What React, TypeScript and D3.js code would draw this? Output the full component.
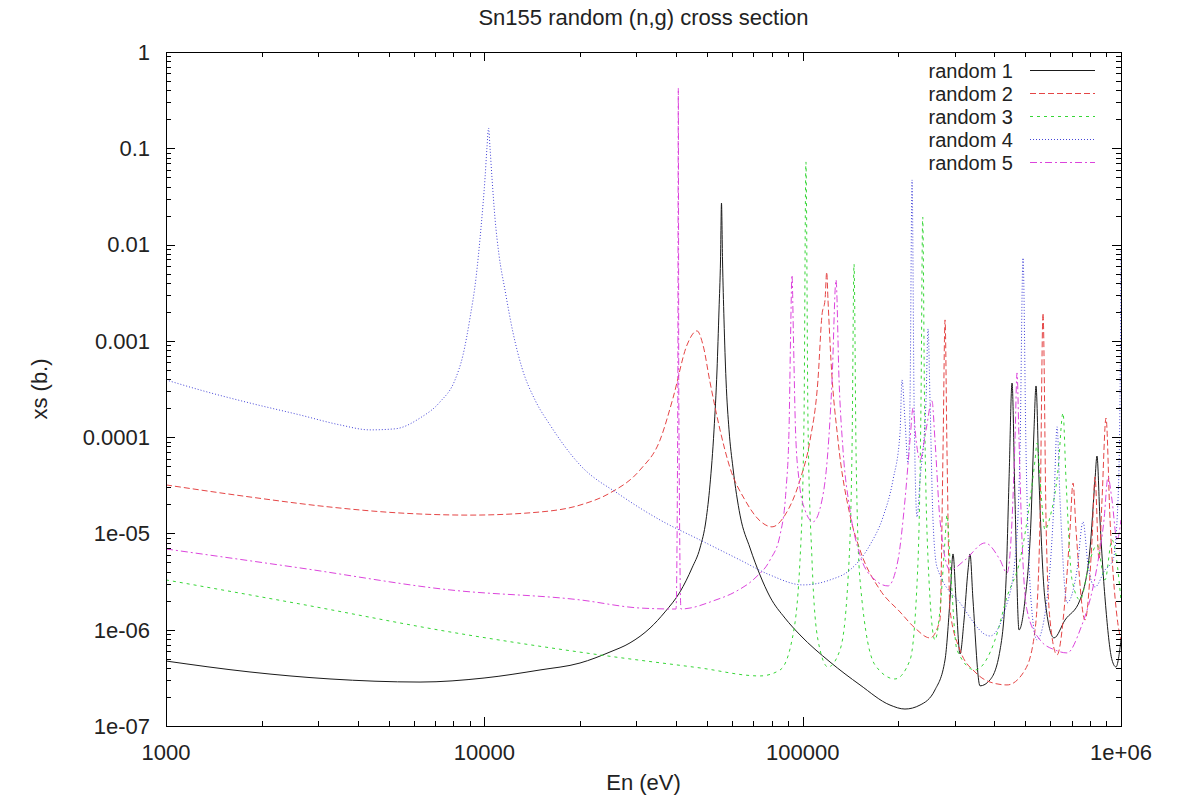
import React from "react";
import * as d3 from "d3";

const TITLE = "Sn155 random (n,g) cross section";
const X_LABEL = "En (eV)";
const Y_LABEL = "xs (b.)";
const X_TICKS = [1e3, 1e4, 1e5, 1e6];
const X_TICK_LABELS = ["1000", "10000", "100000", "1e+06"];
const Y_TICKS = [1, 0.1, 0.01, 0.001, 1e-4, 1e-5, 1e-6, 1e-7];
const Y_TICK_LABELS = ["1", "0.1", "0.01", "0.001", "0.0001", "1e-05", "1e-06", "1e-07"];
const SERIES_NAMES = ["random 1", "random 2", "random 3", "random 4", "random 5"];

// [En (eV), xs (b.)]
const random1: [number, number][] = [
  [1000, 4.73e-7], [1836, 3.64e-7], [3275, 3.08e-7], [6280, 2.86e-7], [9980, 3.15e-7],
  [14960, 3.82e-7], [19980, 4.51e-7], [24820, 5.87e-7], [28690, 7.3e-7], [33150, 1.04e-6],
  [36940, 1.53e-6], [41180, 2.47e-6], [44920, 4.38e-6], [47590, 7.06e-6], [49710, 1.38e-5],
  [51150, 3.19e-5], [52670, 1.19e-4], [53820, 4.98e-4], [54600, 2.09e-3], [55200, 6.92e-3],
  [55590, 0.027], [56000, 6.92e-3], [56610, 1.65e-3], [57440, 3.93e-4], [58700, 1.19e-4],
  [60410, 4.79e-5], [63570, 1.55e-5], [68330, 7.06e-6], [73450, 3.7e-6], [78970, 2.19e-6],
  [88000, 1.32e-6], [98100, 8.82e-7], [121900, 4.62e-7], [151400, 2.67e-7], [188100, 1.65e-7],
  [209600, 1.5e-7], [233700, 1.65e-7], [260400, 2.37e-7], [280000, 4.85e-7], [290300, 2.04e-6],
  [296700, 6.12e-6], [303200, 2.04e-6], [312100, 5.6e-7], [321300, 1.26e-6], [330700, 4.17e-6],
  [335500, 6.12e-6], [342800, 2.04e-6], [360700, 2.61e-7], [387700, 3.01e-7], [416900, 6.16e-7],
  [435500, 3.29e-6], [444900, 3.59e-5], [454700, 3.65e-4], [464500, 2.22e-5], [478200, 9.95e-7],
  [499400, 2.04e-6], [521500, 1.38e-5], [533000, 1.19e-4], [540800, 3.4e-4], [552600, 3.59e-5],
  [577200, 2.04e-6], [616100, 8.22e-7], [666900, 1.26e-6], [743500, 2.04e-6], [799100, 6.9e-6],
  [828500, 3.59e-5], [840500, 6.37e-5], [859000, 1.38e-5], [897200, 1.6e-6], [937000, 4.85e-7],
  [964400, 4.1e-7], [1000000, 7.83e-7],
];

const random2: [number, number][] = [
  [1000, 3.19e-5], [1836, 2.39e-5], [3275, 1.88e-5], [5434, 1.63e-5], [9016, 1.55e-5],
  [14960, 1.67e-5], [19980, 1.97e-5], [24820, 2.63e-5], [30830, 4.56e-5], [35640, 9.33e-5],
  [39150, 2.55e-4], [43320, 9.06e-4], [46570, 1.27e-3], [48630, 9.06e-4], [51150, 3.74e-4],
  [55000, 1.19e-4], [59130, 4.79e-5], [65900, 2.22e-5], [73450, 1.35e-5], [80120, 1.17e-5],
  [88000, 1.55e-5], [98100, 3.59e-5], [105500, 9.33e-5], [111700, 3.93e-4], [115000, 1.86e-3],
  [117550, 2.66e-3], [119000, 5.19e-3], [120100, 2.66e-3], [122700, 6.33e-4], [129100, 9.33e-5],
  [140800, 1.55e-5], [151400, 6.73e-6], [175000, 2.59e-6], [202200, 1.53e-6], [225400, 1.04e-6],
  [251200, 8.22e-7], [270000, 1.26e-6], [276000, 7.36e-5], [280100, 1.65e-3], [284000, 7.36e-5],
  [290300, 1.6e-6], [312100, 6.16e-7], [347900, 3.64e-7], [387700, 2.86e-7], [438400, 2.67e-7],
  [499400, 3.82e-7], [537000, 9.93e-7], [556800, 1.38e-5], [568900, 1.95e-3], [581400, 1.38e-5],
  [598400, 1.26e-6], [629600, 5.47e-7], [666900, 2.04e-6], [691500, 1.09e-5], [706700, 3.34e-5],
  [722300, 1.09e-5], [770900, 1.26e-6], [810900, 8.55e-6], [828500, 3.86e-5], [852900, 5.3e-6],
  [871600, 2.22e-5], [897200, 1.58e-4], [923800, 1.38e-5], [971600, 1.36e-6], [1000000, 7.83e-7],
];

const random3: [number, number][] = [
  [1000, 3.29e-6], [2636, 1.85e-6], [7800, 9.48e-7], [23090, 5.47e-7], [47590, 4.01e-7],
  [73450, 3.31e-7], [84900, 3.82e-7], [92570, 7.83e-7], [98100, 5.3e-6], [100970, 1.51e-4],
  [102400, 0.0721], [103900, 1.51e-4], [106980, 5.3e-6], [111700, 7.83e-7], [120100, 4.1e-7],
  [131000, 6.16e-7], [138800, 3.29e-6], [142900, 7.36e-5], [145000, 6.28e-3], [147100, 7.36e-5],
  [151400, 3.29e-6], [168800, 4.3e-7], [195100, 3.08e-7], [217400, 4.85e-7], [230400, 5.3e-6],
  [235400, 2.43e-4], [238300, 0.0193], [241400, 2.43e-4], [247700, 5.3e-6], [260400, 7.83e-7],
  [270000, 1.6e-6], [280100, 8.55e-6], [284000, 1.55e-5], [290300, 5.3e-6], [305300, 6.16e-7],
  [347900, 3.82e-7], [402000, 7.83e-7], [438400, 2.19e-6], [481700, 5.3e-6], [518000, 2.22e-5],
  [537000, 5.79e-5], [544800, 8.69e-5], [556800, 3.59e-5], [577200, 1.09e-5], [598400, 1.48e-5],
  [634100, 4.56e-5], [657400, 1.78e-4], [671900, 3.59e-5], [701800, 3.29e-6], [743500, 2.04e-6],
  [799100, 5.3e-6], [840500, 7.59e-6], [890700, 3.29e-6], [937000, 8.55e-6], [1000000, 2.04e-6],
];

const random4: [number, number][] = [
  [1000, 3.93e-4], [1279, 3.09e-4], [1836, 2.26e-4], [2636, 1.7e-4], [3521, 1.34e-4],
  [4373, 1.19e-4], [5242, 1.22e-4], [6280, 1.58e-4], [7256, 2.32e-4], [8089, 3.93e-4],
  [8570, 7.13e-4], [9016, 1.73e-3], [9415, 4.5e-3], [9761, 0.0149], [10050, 0.0491],
  [10190, 0.1007], [10310, 0.162], [10420, 0.1007], [10570, 0.0491], [10800, 0.0189],
  [11120, 7.8e-3], [11610, 3.38e-3], [12310, 1.21e-3], [13130, 5.23e-4], [14430, 2.43e-4],
  [16080, 1.34e-4], [19980, 5.14e-5], [26690, 2.51e-5], [35640, 1.38e-5], [47590, 8.55e-6],
  [63570, 5.3e-6], [78970, 3.7e-6], [100200, 2.92e-6], [121900, 3.29e-6], [140800, 4.17e-6],
  [162700, 7.59e-6], [178800, 1.48e-5], [192200, 3.59e-5], [202200, 1.1e-4], [205100, 3.93e-4],
  [209600, 1.51e-4], [214200, 5.39e-5], [217400, 2.43e-4], [220600, 0.0469], [223800, 2.43e-4],
  [228700, 1.48e-5], [233700, 3.59e-5], [244100, 2.43e-4], [247700, 1.33e-3], [251200, 2.43e-4],
  [256700, 1.38e-5], [264200, 4.48e-6], [312100, 1.9e-6], [387700, 8.61e-7], [432000, 1.6e-6],
  [464500, 5.3e-6], [481700, 7.36e-5], [492300, 7.26e-3], [503000, 7.36e-5], [521500, 2.04e-6],
  [544800, 7.83e-7], [589900, 2.59e-6], [616100, 2.22e-5], [629600, 1.28e-4], [643400, 2.22e-5],
  [676800, 1.9e-6], [727500, 4.17e-6], [759800, 1.32e-5], [787800, 4.7e-6], [828500, 2.78e-6],
  [890600, 4.17e-6], [943900, 5.3e-6], [978600, 2.22e-5], [992900, 2.43e-4], [1000000, 8.79e-3],
];

const random5: [number, number][] = [
  [1000, 6.9e-6], [2636, 4.38e-6], [7800, 2.59e-6], [19980, 2.04e-6], [30830, 1.68e-6],
  [40010, 1.64e-6], [40530, 2.43e-4], [40680, 0.423], [40820, 2.43e-4], [41470, 1.64e-6],
  [44280, 1.68e-6], [52290, 1.99e-6], [61320, 2.47e-6], [70850, 3.44e-6], [78970, 5.3e-6],
  [84900, 9.64e-6], [88650, 2.83e-5], [90600, 1.19e-4], [91590, 1.02e-3], [92570, 4.83e-3],
  [93580, 1.02e-3], [94950, 1.19e-4], [97390, 3.59e-5], [101700, 1.75e-5], [107800, 1.32e-5],
  [115000, 2.22e-5], [120100, 7.36e-5], [123700, 3.93e-4], [127300, 4.29e-3], [130100, 3.93e-4],
  [133900, 7.36e-5], [140800, 1.75e-5], [151400, 5.97e-6], [168800, 3.29e-6], [185400, 2.85e-6],
  [199300, 5.3e-6], [209600, 2.22e-5], [217400, 9.33e-5], [222200, 2.01e-4], [227100, 9.33e-5],
  [233700, 5.79e-5], [244100, 1.19e-4], [254800, 2.38e-4], [260400, 9.33e-5], [270000, 1.38e-5],
  [290300, 4.17e-6], [323600, 5.3e-6], [373900, 7.96e-6], [416900, 5.3e-6], [438400, 3.88e-6],
  [454700, 1.38e-5], [464500, 9.33e-5], [471400, 4.64e-4], [478200, 9.33e-5], [488700, 8.55e-6],
  [506600, 1.6e-6], [556800, 7.83e-7], [620500, 6.16e-7], [676800, 5.74e-7], [743500, 9.93e-7],
  [840500, 4.48e-6], [884300, 1.38e-5], [910400, 3.86e-5], [937000, 2.22e-5], [971600, 8.55e-6],
  [1000000, 1.38e-5],
];

const SERIES = [random1, random2, random3, random4, random5];
const STYLES = [
  { color: "#1a1a1a", dash: "none" },
  { color: "#e54545", dash: "6,3" },
  { color: "#36d636", dash: "3,4" },
  { color: "#4444d8", dash: "1,2" },
  { color: "#dc44dc", dash: "7,3,2,3" },
];

const W = 1177;
const H = 795;
const L = 166, R = 1121, T = 52, B = 726;
const FONT = "'Liberation Sans', Arial, sans-serif";

export default function App() {
  const x = d3.scaleLog().domain([1e3, 1e6]).range([L, R]);
  const y = d3.scaleLog().domain([1e-7, 1]).range([B, T]);
  const line = d3
    .line<[number, number]>()
    .x((d) => x(d[0]))
    .y((d) => y(d[1]))
    .curve(d3.curveMonotoneX);

  const xMinor: number[] = [];
  for (const dec of [1e3, 1e4, 1e5]) for (let k = 2; k <= 9; k++) xMinor.push(k * dec);
  const yMinor: number[] = [];
  for (const dec of [1e-7, 1e-6, 1e-5, 1e-4, 1e-3, 1e-2, 1e-1]) for (let k = 2; k <= 9; k++) yMinor.push(k * dec);

  const MAJ = 9, MIN = 5;
  const legendRows = SERIES_NAMES.map((_, i) => 70.5 + 23 * i);

  return (
    <svg width={W} height={H} style={{ position: "absolute", left: 0, top: 0, background: "#fff" }} fontFamily={FONT}>
      <defs>
        <clipPath id="plotclip">
          <rect x={L} y={T} width={R - L} height={B - T} />
        </clipPath>
      </defs>
      <rect x={0} y={0} width={W} height={H} fill="#fff" />
      <text x={(L + R) / 2} y={25} textAnchor="middle" fontSize={22} fill="#222">{TITLE}</text>

      {/* series */}
      <g clipPath="url(#plotclip)">
        {SERIES.map((s, i) => (
          <path key={i} d={line(s) || ""} fill="none" stroke={STYLES[i].color} strokeWidth={1}
            strokeDasharray={STYLES[i].dash === "none" ? undefined : STYLES[i].dash} />
        ))}
      </g>

      {/* ticks */}
      <g stroke="#000" strokeWidth={1}>
        {X_TICKS.map((v, i) => (
          <g key={"xm" + i}>
            <line x1={Math.round(x(v)) + 0.5} x2={Math.round(x(v)) + 0.5} y1={B} y2={B - MAJ} />
            <line x1={Math.round(x(v)) + 0.5} x2={Math.round(x(v)) + 0.5} y1={T} y2={T + MAJ} />
          </g>
        ))}
        {xMinor.map((v, i) => (
          <g key={"xn" + i}>
            <line x1={Math.round(x(v)) + 0.5} x2={Math.round(x(v)) + 0.5} y1={B} y2={B - MIN} />
            <line x1={Math.round(x(v)) + 0.5} x2={Math.round(x(v)) + 0.5} y1={T} y2={T + MIN} />
          </g>
        ))}
        {Y_TICKS.map((v, i) => (
          <g key={"ym" + i}>
            <line x1={L} x2={L + MAJ} y1={Math.round(y(v)) + 0.5} y2={Math.round(y(v)) + 0.5} />
            <line x1={R} x2={R - MAJ} y1={Math.round(y(v)) + 0.5} y2={Math.round(y(v)) + 0.5} />
          </g>
        ))}
        {yMinor.map((v, i) => (
          <g key={"yn" + i}>
            <line x1={L} x2={L + MIN} y1={Math.round(y(v)) + 0.5} y2={Math.round(y(v)) + 0.5} />
            <line x1={R} x2={R - MIN} y1={Math.round(y(v)) + 0.5} y2={Math.round(y(v)) + 0.5} />
          </g>
        ))}
      </g>
      <rect x={L + 0.5} y={T + 0.5} width={R - L} height={B - T} fill="none" stroke="#000" strokeWidth={1} />

      {/* tick labels */}
      {X_TICKS.map((v, i) => (
        <text key={"xl" + i} x={x(v)} y={760} textAnchor="middle" fontSize={22} fill="#222">{X_TICK_LABELS[i]}</text>
      ))}
      {Y_TICKS.map((v, i) => (
        <text key={"yl" + i} x={150} y={y(v)} dy="0.36em" textAnchor="end" fontSize={22} fill="#222">{Y_TICK_LABELS[i]}</text>
      ))}
      <text x={(L + R) / 2} y={790} textAnchor="middle" fontSize={22} fill="#222">{X_LABEL}</text>
      <text transform={`translate(47,${(T + B) / 2}) rotate(-90)`} textAnchor="middle" fontSize={22} fill="#222">{Y_LABEL}</text>

      {/* legend */}
      {SERIES_NAMES.map((n, i) => (
        <g key={"lg" + i}>
          <text x={1013} y={legendRows[i]} dy="0.36em" textAnchor="end" fontSize={20} fill="#222">{n}</text>
          <line x1={1030} x2={1095} y1={legendRows[i]} y2={legendRows[i]} stroke={STYLES[i].color} strokeWidth={1}
            strokeDasharray={STYLES[i].dash === "none" ? undefined : STYLES[i].dash} />
        </g>
      ))}
    </svg>
  );
}
